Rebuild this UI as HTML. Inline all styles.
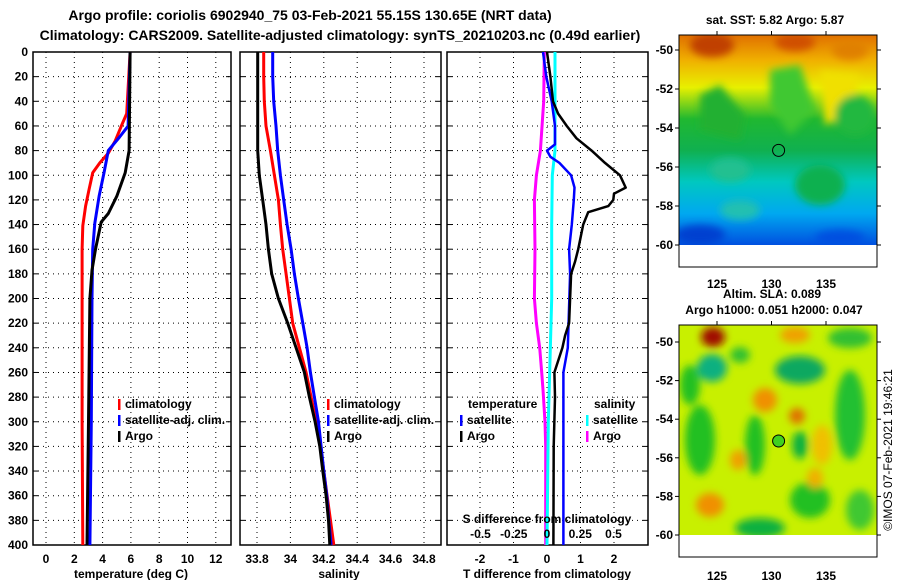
<!DOCTYPE html>
<html><head><meta charset="utf-8"><style>
body{margin:0;background:#fff;}
svg{display:block;font-family:"Liberation Sans",sans-serif;font-weight:bold;}
</style></head><body>
<svg id="c" width="900" height="580" xmlns="http://www.w3.org/2000/svg">
<defs>
<filter id="bl1" x="-50%" y="-50%" width="200%" height="200%"><feGaussianBlur stdDeviation="4"/></filter>
<clipPath id="cm1"><rect x="679" y="35" width="198" height="210"/></clipPath>
<clipPath id="cm2"><rect x="679" y="325" width="198" height="210"/></clipPath>
<linearGradient id="g1" x1="0" y1="0" x2="0" y2="1">
<stop offset="0" stop-color="#e07000"/><stop offset="0.12" stop-color="#f0b000"/><stop offset="0.25" stop-color="#e8f000"/>
<stop offset="0.4" stop-color="#20b830"/><stop offset="0.55" stop-color="#10b050"/><stop offset="0.7" stop-color="#00c8c0"/>
<stop offset="0.85" stop-color="#00a8f0"/><stop offset="1" stop-color="#0050e0"/></linearGradient>
</defs>
<text x="310" y="20" text-anchor="middle" font-size="14">Argo profile: coriolis 6902940_75 03-Feb-2021 55.15S 130.65E (NRT data)</text>
<text x="340" y="40" text-anchor="middle" font-size="14">Climatology: CARS2009. Satellite-adjusted climatology: synTS_20210203.nc (0.49d earlier)</text>

<g>
<rect x="679" y="35" width="198" height="232" fill="#fff" stroke="#000"/>
<g clip-path="url(#cm1)">
<rect x="679" y="35" width="198" height="210" fill="url(#g1)"/>
<g filter="url(#bl1)">
<ellipse cx="712" cy="45" rx="22" ry="12" fill="#c04000"/>
<ellipse cx="795" cy="42" rx="20" ry="9" fill="#d05000"/>
<ellipse cx="850" cy="50" rx="18" ry="10" fill="#e08000"/>
<path d="M770 70 L800 65 L815 110 L790 135 L770 105 Z" fill="#40c830"/>
<path d="M700 95 L720 85 L745 115 L740 140 L700 130 Z" fill="#20b030"/>
<path d="M820 70 L860 75 L850 115 L825 125 Z" fill="#f0e000"/>
<ellipse cx="855" cy="115" rx="20" ry="20" fill="#20b840"/>
<ellipse cx="820" cy="185" rx="25" ry="20" fill="#10b050"/>
<ellipse cx="730" cy="170" rx="20" ry="12" fill="#20c090"/>
<ellipse cx="740" cy="210" rx="20" ry="10" fill="#20c0b0"/>
<ellipse cx="700" cy="235" rx="25" ry="10" fill="#0040d0"/>
<ellipse cx="840" cy="238" rx="25" ry="8" fill="#0050e0"/>
</g></g>
<rect x="679" y="35" width="198" height="232" fill="none" stroke="#000"/>
<circle cx="778.6" cy="150.4" r="6" fill="none" stroke="#000"/>
</g>
<text x="775" y="24" text-anchor="middle" font-size="12">sat. SST: 5.82 Argo: 5.87</text>

<g>
<rect x="679" y="325" width="198" height="232" fill="#fff" stroke="#000"/>
<g clip-path="url(#cm2)">
<rect x="679" y="325" width="198" height="210" fill="#c8f000"/>
<g filter="url(#bl1)">
<ellipse cx="713" cy="337" rx="12" ry="10" fill="#a01000"/>
<ellipse cx="795" cy="335" rx="15" ry="8" fill="#f0a000"/>
<ellipse cx="800" cy="370" rx="25" ry="14" fill="#10a860"/>
<ellipse cx="712" cy="368" rx="15" ry="14" fill="#10b080"/>
<ellipse cx="850" cy="338" rx="22" ry="10" fill="#30c030"/>
<ellipse cx="690" cy="385" rx="10" ry="20" fill="#20c020"/>
<ellipse cx="740" cy="355" rx="10" ry="8" fill="#30c030"/>
<ellipse cx="765" cy="400" rx="12" ry="12" fill="#f09000"/>
<ellipse cx="797" cy="416" rx="8" ry="8" fill="#e07000"/>
<ellipse cx="700" cy="440" rx="15" ry="35" fill="#20c020"/>
<ellipse cx="755" cy="445" rx="10" ry="30" fill="#20c020"/>
<ellipse cx="800" cy="445" rx="8" ry="14" fill="#10b040"/>
<ellipse cx="850" cy="415" rx="15" ry="45" fill="#20c030"/>
<ellipse cx="822" cy="445" rx="10" ry="20" fill="#f0c000"/>
<ellipse cx="738" cy="460" rx="8" ry="10" fill="#f0a000"/>
<ellipse cx="710" cy="505" rx="14" ry="12" fill="#f09000"/>
<ellipse cx="760" cy="528" rx="25" ry="10" fill="#10b040"/>
<ellipse cx="810" cy="500" rx="20" ry="18" fill="#20c020"/>
<ellipse cx="815" cy="478" rx="8" ry="10" fill="#f0b000"/>
<ellipse cx="860" cy="510" rx="14" ry="20" fill="#40c830"/>
</g></g>
<rect x="679" y="325" width="198" height="232" fill="none" stroke="#000"/>
<circle cx="778.6" cy="441" r="6" fill="#40d020" stroke="#000"/>
</g>
<text x="772" y="298" text-anchor="middle" font-size="12">Altim. SLA: 0.089</text>
<text x="774" y="314" text-anchor="middle" font-size="12">Argo h1000: 0.051 h2000: 0.047</text>
<text transform="translate(892,450) rotate(-90)" text-anchor="middle" font-size="12" font-weight="normal">©IMOS 07-Feb-2021 19:46:21</text>
</svg>
<script>
const depths=[0,20,40,60,80,100,120,140,160,180,200,220,240,260,280,300,320,340,360,380,400];
const tDepths=[0,50,58,72,82,90,98,111,125,141,160,200,300,400];
const tClim=[5.94,5.7,5.4,4.9,4.4,3.8,3.3,3.05,2.8,2.6,2.55,2.55,2.55,2.6];
const tSatDepths=[0,60,69,80,98,117,139,160,200,300,400];
const tSat=[5.94,5.8,5.2,4.4,4.1,3.75,3.45,3.3,3.25,3.2,3.1];
const tArgoDepths=[0,80,98,117,131,138,160,177,200,300,400];
const tArgo=[5.94,5.87,5.6,5.0,4.4,3.9,3.5,3.25,3.1,3.0,2.9];
const sArgo=[33.804,33.804,33.804,33.804,33.804,33.814,33.834,33.854,33.868,33.888,33.928,33.984,34.034,34.084,34.114,34.148,34.176,34.194,34.214,34.228,34.236];
const sClim=[33.84,33.84,33.844,33.854,33.88,33.904,33.928,33.94,33.954,33.974,33.994,34.014,34.054,34.094,34.124,34.154,34.18,34.2,34.22,34.24,34.26];
const sSat=[33.894,33.894,33.9,33.914,33.924,33.94,33.96,33.98,34.004,34.024,34.048,34.074,34.1,34.12,34.144,34.168,34.184,34.2,34.218,34.23,34.244];
const dtArgoDepths=[0,20,40,50,60,70,80,90,100,110,115,120,125,130,140,160,170,180,200,220,230,240,260,280,320,400];
const dtArgo=[0,0.1,0.18,0.33,0.59,0.88,1.33,1.73,2.18,2.35,2.0,1.98,1.83,1.23,1.08,0.93,0.84,0.72,0.69,0.66,0.54,0.46,0.22,0.24,0.2,0.19];
const dtSatDepths=[0,20,40,60,75,80,85,90,100,110,120,140,160,180,240,260,400];
const dtSat=[-0.12,-0.02,0.14,0.24,0.24,0,0.1,0.37,0.72,0.82,0.8,0.74,0.66,0.69,0.62,0.49,0.49];
const dsSatDepths=[0,80,100,140,200,300,400];
const dsSat=[0.06,0.06,0.04,0.035,0.035,0.01,0];
const dsArgoDepths=[0,40,80,100,120,160,200,220,240,260,274,300,320,400];
const dsArgo=[-0.02,-0.025,-0.05,-0.08,-0.095,-0.09,-0.095,-0.08,-0.055,-0.04,-0.03,-0.015,-0.01,-0.01];
const yTicks=[0,20,40,60,80,100,120,140,160,180,200,220,240,260,280,300,320,340,360,380,400];
const tTicks=[0,2,4,6,8,10,12];
const sTicks=[33.8,34,34.2,34.4,34.6,34.8];
const dTTicks=[-2,-1,0,1,2];
const dSTicks=[-0.5,-0.25,0,0.25,0.5];
const latTicks=[-50,-52,-54,-56,-58,-60];
const lonTicks=[125,130,135];

const NS='http://www.w3.org/2000/svg';
const svg=document.getElementById('c');
function el(tag,attrs,parent,text){const e=document.createElementNS(NS,tag);for(const k in attrs)e.setAttribute(k,attrs[k]);if(text!==undefined)e.textContent=text;(parent||svg).appendChild(e);return e;}
const Y0=52,Y1=545;
const yS=d=>Y0+(Y1-Y0)*d/400;
const xT=t=>46+14.15*t;
const xS=s=>257+167*(s-33.8);
const xDT=t=>547+33.5*t;
const xDS=s=>547+133*s;

function panel(name,x0,x1){
  const g=el('g',{});
  
  
  el('rect',{x:x0,y:Y0,width:x1-x0,height:Y1-Y0,fill:'#fff',stroke:'#000','stroke-width':1.5},g);
  yTicks.forEach(d=>{const y=yS(d);
    if(d>0&&d<400)el('line',{x1:x0,x2:x1,y1:y,y2:y,stroke:'#000','stroke-dasharray':'1 4'},g);
    el('line',{x1:x0,x2:x0+5,y1:y,y2:y,stroke:'#000'},g);
    el('line',{x1:x1-5,x2:x1,y1:y,y2:y,stroke:'#000'},g);});
  return g;
}
function vgrid(g,ticks,f){ticks.forEach(t=>{const x=f(t);el('line',{x1:x,x2:x,y1:Y0,y2:Y1,stroke:'#000','stroke-dasharray':'1 4'},g);});}
function line(g,name,ds,vs,fx,color,w){
  const pts=ds.map((d,i)=>fx(vs[i]).toFixed(1)+','+yS(d).toFixed(1)).join(' ');
  const p=el('polyline',{points:pts,fill:'none',stroke:color,'stroke-width':w,'stroke-linejoin':'round'},g);
  
  
}
function legend(g,x,y,color,label,name){
  el('rect',{x:x,y:y-9,width:2.5,height:11,fill:color},g);
  const t=el('text',{x:x+7,y:y,'font-size':12},g,label);
  
  
}
yTicks.forEach(d=>{const t=el('text',{x:28,y:yS(d)+4,'text-anchor':'end','font-size':12},svg,String(d));
  
  });

const g1=panel('temperature-panel',33,231);
vgrid(g1,tTicks,xT);
line(g1,'temp-climatology-line',tDepths,tClim,xT,'#f00',3);
line(g1,'temp-satellite-line',tSatDepths,tSat,xT,'#00f',3);
line(g1,'temp-argo-line',tArgoDepths,tArgo,xT,'#000',3);
tTicks.forEach(t=>{const e=el('text',{x:xT(t),y:563,'text-anchor':'middle','font-size':12},svg,String(t));
  
  });
el('text',{x:131,y:578,'text-anchor':'middle','font-size':12,},svg,'temperature (deg C)');
legend(g1,118,408,'#f00','climatology','legend-climatology');
legend(g1,118,424,'#00f','satellite-adj. clim.','legend-satellite');
legend(g1,118,440,'#000','Argo','legend-argo');

const g2=panel('salinity-panel',240,441);
vgrid(g2,sTicks,xS);
line(g2,'sal-climatology-line',depths,sClim,xS,'#f00',3);
line(g2,'sal-satellite-line',depths,sSat,xS,'#00f',3);
line(g2,'sal-argo-line',depths,sArgo,xS,'#000',3);
sTicks.forEach(t=>{const e=el('text',{x:xS(t),y:563,'text-anchor':'middle','font-size':12},svg,String(t));
  
  });
el('text',{x:339,y:578,'text-anchor':'middle','font-size':12,},svg,'salinity');
legend(g2,327,408,'#f00','climatology','legend-climatology');
legend(g2,327,424,'#00f','satellite-adj. clim.','legend-satellite');
legend(g2,327,440,'#000','Argo','legend-argo');

const g3=panel('difference-panel',447,648);
vgrid(g3,dTTicks,xDT);
line(g3,'ds-argo-line',dsArgoDepths,dsArgo,xDS,'#f0f',3);
line(g3,'ds-satellite-line',dsSatDepths,dsSat,xDS,'#0ff',3);
line(g3,'dt-satellite-line',dtSatDepths,dtSat,xDT,'#00f',2.5);
line(g3,'dt-argo-line',dtArgoDepths,dtArgo,xDT,'#000',2.5);
dTTicks.forEach(t=>{const e=el('text',{x:xDT(t),y:563,'text-anchor':'middle','font-size':12},svg,String(t));
  
  });
dSTicks.forEach(t=>{const e=el('text',{x:xDS(t),y:538,'text-anchor':'middle','font-size':12},svg,String(t));
  
  });
el('text',{x:547,y:523,'text-anchor':'middle','font-size':12,},svg,'S difference from climatology');
el('text',{x:547,y:578,'text-anchor':'middle','font-size':12,},svg,'T difference from climatology');
el('text',{x:468,y:408,'font-size':12,},svg,'temperature');
el('text',{x:594,y:408,'font-size':12,},svg,'salinity');
legend(g3,460,424,'#00f','satellite','legend-t-satellite');
legend(g3,460,440,'#000','Argo','legend-t-argo');
legend(g3,586,424,'#0ff','satellite','legend-s-satellite');
legend(g3,586,440,'#f0f','Argo','legend-s-argo');

function mapAxes(name,latY0,perLat,bottom,lonY){
  const g=el('g',{});
  
  
  latTicks.forEach(l=>{const y=latY0+perLat*(-50-l);
    el('text',{x:673,y:y+4,'text-anchor':'end','font-size':12},g,String(l));
    el('line',{x1:675,x2:679,y1:y,y2:y,stroke:'#000'},g);
    el('line',{x1:877,x2:881,y1:y,y2:y,stroke:'#000'},g);});
  lonTicks.forEach(l=>{const x=717+10.9*(l-125);
    el('text',{x:x,y:lonY,'text-anchor':'middle','font-size':12},g,String(l));
    el('line',{x1:x,x2:x,y1:bottom-232,y2:bottom-236,stroke:'#000'},g);});
}
mapAxes('sst-map-axes',50,19.5,267,288);
mapAxes('sla-map-axes',342,19.3,557,580);
</script>
</body></html>
